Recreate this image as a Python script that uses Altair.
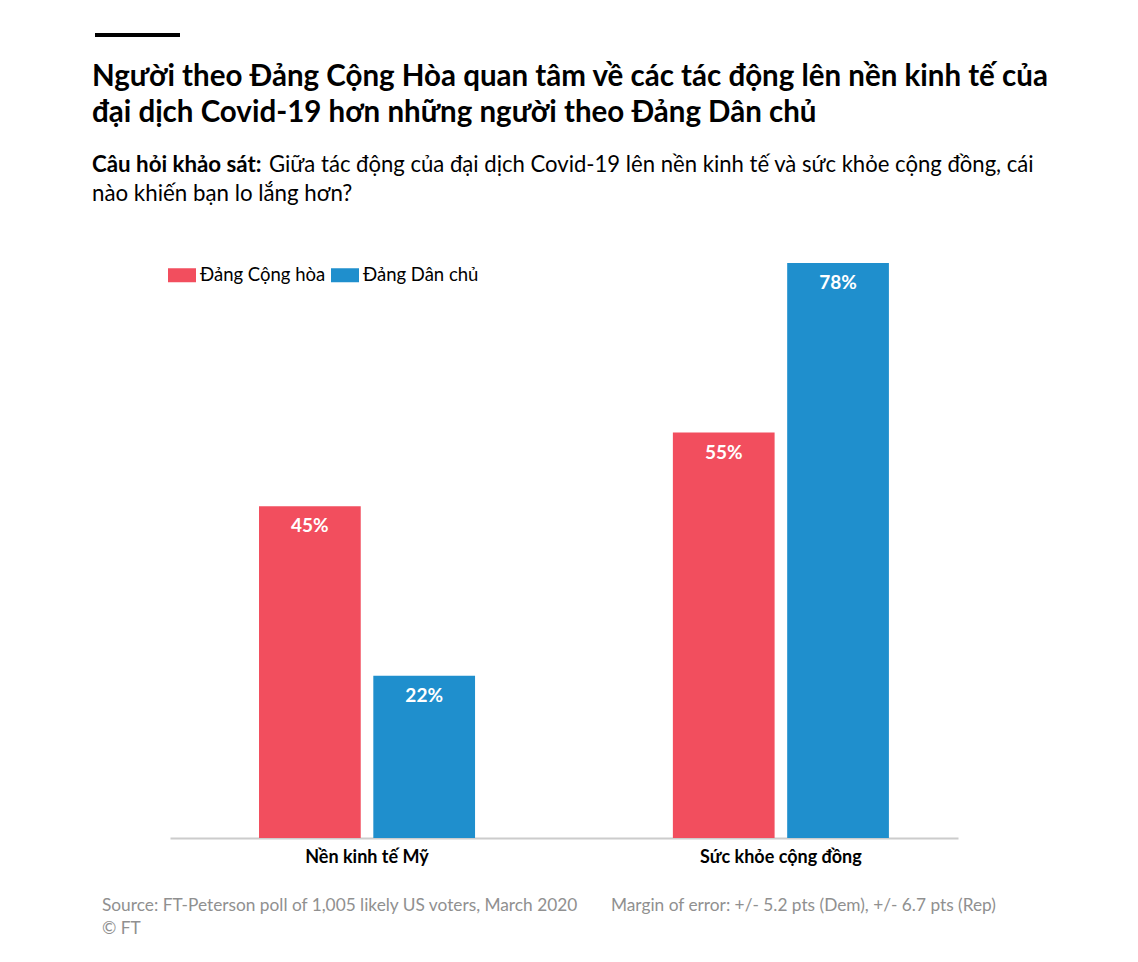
import pandas as pd
import altair as alt

# survey answers
categories = ["Nền kinh tế Mỹ", "Sức khỏe cộng đồng"]
parties = ["Đảng Cộng hòa", "Đảng Dân chủ"]
rep_values = [45, 55]
dem_values = [22, 78]
colors = ["#F24E5E", "#1F8FCD"]

title_lines = ["Người theo Đảng Cộng Hòa quan tâm về các tác động lên nền kinh tế của",
               "đại dịch Covid-19 hơn những người theo Đảng Dân chủ"]
question_bold = "Câu hỏi khảo sát:"
question_line1 = "Giữa tác động của đại dịch Covid-19 lên nền kinh tế và sức khỏe cộng đồng, cái"
question_line2 = "nào khiến bạn lo lắng hơn?"
source_text = "Source: FT-Peterson poll of 1,005 likely US voters, March 2020"
margin_text = "Margin of error: +/- 5.2 pts (Dem), +/- 6.7 pts (Rep)"
copyright_text = "© FT"

rows = []
for cat, r, d in zip(categories, rep_values, dem_values):
    rows.append({"cat": cat, "party": parties[0], "value": r, "label": f"{r}%"})
    rows.append({"cat": cat, "party": parties[1], "value": d, "label": f"{d}%"})
df = pd.DataFrame(rows)

FONT = "Lato"

base = alt.Chart(df).encode(
    x=alt.X("cat:N", sort=categories, title=None,
            scale=alt.Scale(paddingInner=0.478, paddingOuter=0.191, align=0.563),
            axis=alt.Axis(labelAngle=0, ticks=False, labelFont=FONT, labelFontSize=18,
                          labelFontWeight="bold", labelColor="#000", labelPadding=10,
                          domainColor="#cccccc", domainWidth=2)),
    xOffset=alt.XOffset("party:N", sort=parties,
                        scale=alt.Scale(paddingInner=0.11, paddingOuter=0)),
    y=alt.Y("value:Q", scale=alt.Scale(domain=[0, 78]), axis=None),
)

bars = base.mark_bar().encode(
    color=alt.Color("party:N", sort=parties,
                    scale=alt.Scale(domain=parties, range=colors),
                    legend=alt.Legend(title=None, orient="none", direction="horizontal",
                                      legendX=-2, legendY=-2,
                                      symbolType="M-1,-0.5H1V0.5H-1Z", symbolSize=784,
                                      symbolStrokeWidth=0, symbolOpacity=1,
                                      labelFont=FONT, labelFontSize=18.5, labelColor="#000",
                                      labelOffset=4, columnPadding=5))
)

labels = base.mark_text(baseline="top", dy=11, color="white", font=FONT,
                        fontSize=19, fontWeight="bold").encode(text="label:N")

one = pd.DataFrame({"k": [0]})

def note(text, x, y, size, weight="normal", color="#000"):
    return alt.Chart(one).mark_text(align="left", baseline="alphabetic", font=FONT,
                                    fontSize=size, fontWeight=weight, color=color).encode(
        x=alt.value(x), y=alt.value(y), text=alt.datum(text))

top_rule = alt.Chart(one).mark_rule(color="#000", strokeWidth=4).encode(
    x=alt.value(-75), x2=alt.value(10), y=alt.value(-228))

chart = alt.layer(
    bars, labels, top_rule,
    note(title_lines[0], -78, -177, 29.5, "bold"),
    note(title_lines[1], -78, -141, 29.5, "bold"),
    note(question_bold, -78, -91, 22.3, "bold"),
    note(question_line1, 99, -91, 22.1),
    note(question_line2, -78, -62, 22.3),
    note(source_text, -68, 648, 17.3, color="#909090"),
    note(margin_text, 441, 648, 17.3, color="#909090"),
    note(copyright_text, -68, 671, 17.3, color="#909090"),
).properties(
    width=788, height=575,
    autosize=alt.AutoSizeParams(type="none"),
    padding={"left": 162, "top": 255, "right": 150, "bottom": 100},
).configure_view(stroke=None)

chart.save("out.html", embed_options={"renderer": "svg", "actions": False})
